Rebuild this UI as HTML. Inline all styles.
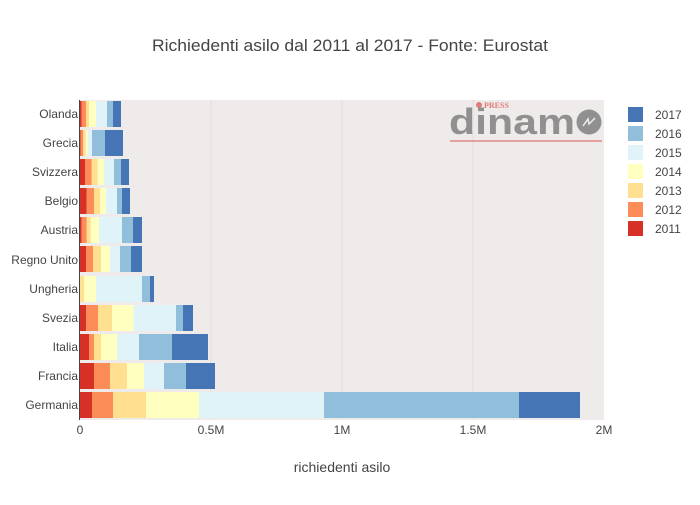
<!DOCTYPE html>
<html><head><meta charset="utf-8"><style>
body{margin:0;background:#fff}
svg text{font-family:"Liberation Sans",sans-serif;fill:#444}
.a{fill:#d73027}.b{fill:#fc8d59}.c{fill:#fee090}.d{fill:#ffffbf}.e{fill:#e0f3f8}.f{fill:#91bfdb}.g{fill:#4575b4}
</style></head><body>
<svg width="700" height="500" xmlns="http://www.w3.org/2000/svg">
<rect width="700" height="500" fill="#fff"/>
<text x="350" y="51" font-size="17" text-anchor="middle" textLength="396" lengthAdjust="spacingAndGlyphs">Richiedenti asilo dal 2011 al 2017 - Fonte: Eurostat</text>
<rect x="80" y="100" width="524" height="320" fill="#eeebea"/>
<g stroke="#e2dfde" stroke-width="1">
<line x1="211" y1="100" x2="211" y2="420"/><line x1="342" y1="100" x2="342" y2="420"/><line x1="473" y1="100" x2="473" y2="420"/>
</g>
<!-- logo -->
<g opacity="0.8">
<circle cx="479" cy="105" r="3" fill="#e06060"/>
<text x="484" y="108" font-size="8" font-weight="bold" style="fill:#e06060;font-family:'Liberation Serif',serif">PRESS</text>
<text x="449" y="134" font-size="36" font-weight="bold" textLength="126" lengthAdjust="spacingAndGlyphs" style="fill:#7a7a7a">dinam</text>
<circle cx="589" cy="122" r="12.5" fill="#7a7a7a"/>
<path d="M583 126 L588 119 L589 124 L595 118" stroke="#eee" stroke-width="1.5" fill="none"/>
<line x1="450" y1="141" x2="602" y2="141" stroke="#e07070" stroke-width="1.5"/>
</g>
<!-- bars -->
<g>
<g transform="translate(0,101)"><rect class="a" x="80" width="1.7" height="26"/><rect class="b" x="81.7" width="4.3" height="26"/><rect class="c" x="86" width="3" height="26"/><rect class="d" x="89" width="7" height="26"/><rect class="e" x="96" width="11" height="26"/><rect class="f" x="107" width="6" height="26"/><rect class="g" x="113" width="8" height="26"/></g>
<g transform="translate(0,130)"><rect class="a" x="80" width="0.7" height="26"/><rect class="b" x="80.7" width="2.3" height="26"/><rect class="c" x="83" width="2.7" height="26"/><rect class="d" x="85.7" width="2" height="26"/><rect class="e" x="87.7" width="4.3" height="26"/><rect class="f" x="92" width="13" height="26"/><rect class="g" x="105" width="18" height="26"/></g>
<g transform="translate(0,159)"><rect class="a" x="80" width="5" height="26"/><rect class="b" x="85" width="6.7" height="26"/><rect class="c" x="91.7" width="6" height="26"/><rect class="d" x="97.7" width="6.6" height="26"/><rect class="e" x="104.3" width="9.7" height="26"/><rect class="f" x="114" width="7" height="26"/><rect class="g" x="121" width="8" height="26"/></g>
<g transform="translate(0,188)"><rect class="a" x="80" width="6.7" height="26"/><rect class="b" x="86.7" width="7.3" height="26"/><rect class="c" x="94" width="6" height="26"/><rect class="d" x="100" width="6" height="26"/><rect class="e" x="106" width="11" height="26"/><rect class="f" x="117" width="5" height="26"/><rect class="g" x="122" width="8" height="26"/></g>
<g transform="translate(0,217)"><rect class="a" x="80" width="1.7" height="26"/><rect class="b" x="81.7" width="5" height="26"/><rect class="c" x="86.7" width="4" height="26"/><rect class="d" x="90.7" width="8.3" height="26"/><rect class="e" x="99" width="23" height="26"/><rect class="f" x="122" width="11" height="26"/><rect class="g" x="133" width="9" height="26"/></g>
<g transform="translate(0,246)"><rect class="a" x="80" width="6" height="26"/><rect class="b" x="86" width="7" height="26"/><rect class="c" x="93" width="8" height="26"/><rect class="d" x="101" width="9" height="26"/><rect class="e" x="110" width="10" height="26"/><rect class="f" x="120" width="11" height="26"/><rect class="g" x="131" width="11" height="26"/></g>
<g transform="translate(0,276)"><rect class="c" x="80" width="0.7" height="26"/><rect class="c" x="80.7" width="3.3" height="26"/><rect class="d" x="84" width="12" height="26"/><rect class="e" x="96" width="46" height="26"/><rect class="f" x="142" width="8" height="26"/><rect class="g" x="150" width="4" height="26"/></g>
<g transform="translate(0,305)"><rect class="a" x="80" width="6" height="26"/><rect class="b" x="86" width="12" height="26"/><rect class="c" x="98" width="14" height="26"/><rect class="d" x="112" width="21.7" height="26"/><rect class="e" x="133.7" width="42.3" height="26"/><rect class="f" x="176" width="7" height="26"/><rect class="g" x="183" width="10" height="26"/></g>
<g transform="translate(0,334)"><rect class="a" x="80" width="9" height="26"/><rect class="b" x="89" width="5" height="26"/><rect class="c" x="94" width="7" height="26"/><rect class="d" x="101" width="16" height="26"/><rect class="e" x="117" width="22" height="26"/><rect class="f" x="139" width="33" height="26"/><rect class="g" x="172" width="36" height="26"/></g>
<g transform="translate(0,363)"><rect class="a" x="80" width="14" height="26"/><rect class="b" x="94" width="16" height="26"/><rect class="c" x="110" width="17" height="26"/><rect class="d" x="127" width="17" height="26"/><rect class="e" x="144" width="20" height="26"/><rect class="f" x="164" width="22" height="26"/><rect class="g" x="186" width="29" height="26"/></g>
<g transform="translate(0,392)"><rect class="a" x="80" width="12" height="26"/><rect class="b" x="92" width="21" height="26"/><rect class="c" x="113" width="33" height="26"/><rect class="d" x="146" width="53" height="26"/><rect class="e" x="199" width="125" height="26"/><rect class="f" x="324" width="195" height="26"/><rect class="g" x="519" width="61" height="26"/></g>
</g>
<line x1="79.5" y1="100" x2="79.5" y2="420" stroke="#444" stroke-width="1"/>
<!-- y labels -->
<g font-size="12" text-anchor="end">
<text x="78" y="118">Olanda</text><text x="78" y="147">Grecia</text><text x="78" y="176">Svizzera</text><text x="78" y="205">Belgio</text><text x="78" y="234">Austria</text><text x="78" y="264">Regno Unito</text><text x="78" y="293">Ungheria</text><text x="78" y="322">Svezia</text><text x="78" y="351">Italia</text><text x="78" y="380">Francia</text><text x="78" y="409">Germania</text>
</g>
<g font-size="12" text-anchor="middle">
<text x="80" y="434">0</text><text x="211" y="434">0.5M</text><text x="342" y="434">1M</text><text x="473" y="434">1.5M</text><text x="604" y="434">2M</text>
</g>
<text x="342" y="472" font-size="14" text-anchor="middle">richiedenti asilo</text>
<!-- legend -->
<g font-size="12">
<rect class="g" x="628" y="107" width="15" height="15"/><text x="655" y="119">2017</text>
<rect class="f" x="628" y="126" width="15" height="15"/><text x="655" y="138">2016</text>
<rect class="e" x="628" y="145" width="15" height="15"/><text x="655" y="157">2015</text>
<rect class="d" x="628" y="164" width="15" height="15"/><text x="655" y="176">2014</text>
<rect class="c" x="628" y="183" width="15" height="15"/><text x="655" y="195">2013</text>
<rect class="b" x="628" y="202" width="15" height="15"/><text x="655" y="214">2012</text>
<rect class="a" x="628" y="221" width="15" height="15"/><text x="655" y="233">2011</text>
</g>
</svg>
</body></html>
